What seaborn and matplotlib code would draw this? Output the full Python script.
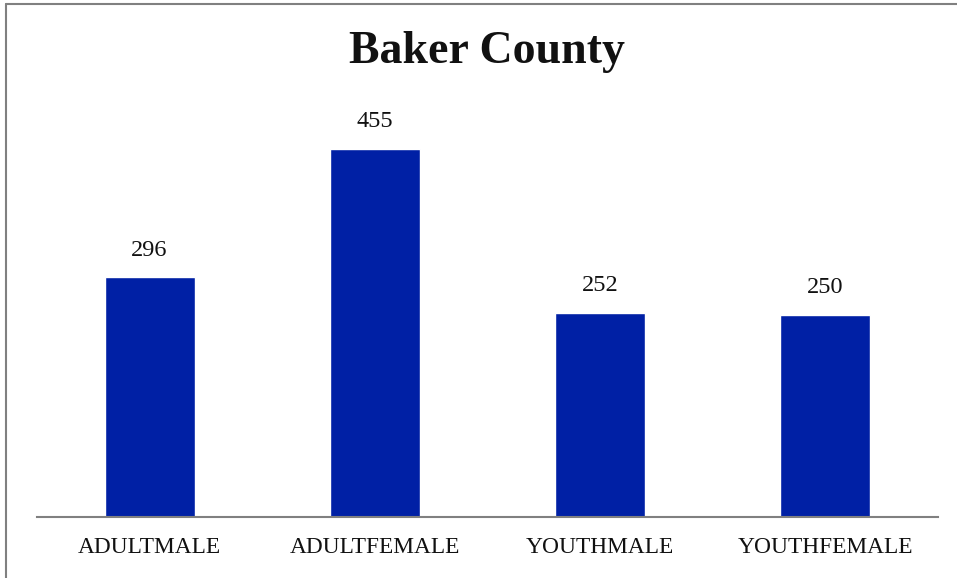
import matplotlib
matplotlib.use("Agg")
import matplotlib.pyplot as plt
import seaborn as sns
import pandas as pd
from matplotlib.lines import Line2D

# data
groups = ["ADULTMALE", "ADULTFEMALE", "YOUTHMALE", "YOUTHFEMALE"]
counts = [296, 455, 252, 250]

df = pd.DataFrame({"group": groups, "count": counts})

sns.set_style("white")
plt.rcParams['font.family'] = ['Liberation Serif', 'DejaVu Serif']

fig = plt.figure(figsize=(9.57, 5.78), dpi=100)
ax = fig.add_axes([37 / 957, 61 / 578, 901 / 957, 437 / 578])

sns.barplot(data=df, x="group", y="count", color="#0020A5", width=0.4,
            saturation=1, ax=ax)

ax.set_xlim(-0.5, 3.5)
ax.set_ylim(0, 540)
ax.set_xlabel("")
ax.set_ylabel("")
ax.set_yticks([])
for s in ["top", "right", "left"]:
    ax.spines[s].set_visible(False)
ax.spines["bottom"].set_color("#808080")
ax.spines["bottom"].set_linewidth(1.5)
ax.tick_params(axis="x", length=0, pad=14.5, labelsize=16.8, colors="#111111")

for i, v in enumerate(counts):
    ax.annotate(str(v), (i, v), xytext=(0, 12), textcoords="offset points",
                ha="center", va="bottom", fontsize=17.5, color="#111111")

fig.text(487 / 957, 1 - 52 / 578, "Baker County", ha="center", va="center",
         fontsize=33, fontweight="bold", color="#111111")

# outer frame, only top and left visible
fig.add_artist(Line2D([6 / 957, 6 / 957], [0, 1 - 4 / 578], color="#808080", lw=1.5))
fig.add_artist(Line2D([6 / 957, 1], [1 - 4 / 578, 1 - 4 / 578], color="#808080", lw=1.5))

fig.savefig("out.png", dpi=100)
